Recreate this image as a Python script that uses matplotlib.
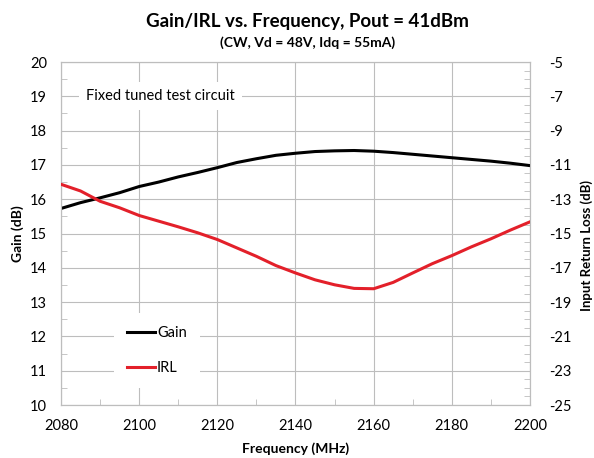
import numpy as np
import matplotlib
matplotlib.use("Agg")
import matplotlib.pyplot as plt
from matplotlib.ticker import MultipleLocator

# Data
freq = [2080, 2085, 2090, 2095, 2100, 2105, 2110, 2115, 2120, 2125, 2130, 2135, 2140,
        2145, 2150, 2155, 2160, 2165, 2170, 2175, 2180, 2185, 2190, 2195, 2200]
gain = [15.73, 15.90, 16.04, 16.19, 16.37, 16.50, 16.65, 16.78, 16.92, 17.07, 17.18, 17.28, 17.34,
        17.39, 17.41, 17.42, 17.40, 17.36, 17.31, 17.26, 17.21, 17.16, 17.11, 17.05, 16.98]
irl = [-12.13, -12.52, -13.12, -13.50, -13.95, -14.28, -14.61, -14.96, -15.35, -15.84, -16.33, -16.87, -17.30,
       -17.70, -17.99, -18.20, -18.22, -17.85, -17.30, -16.76, -16.29, -15.78, -15.31, -14.80, -14.32]
irl_ticks = [-25, -23, -21, -19, -17, -15, -13, -11, -9, -7, -5]

title = "Gain/IRL vs. Frequency, Pout = 41dBm"
subtitle = "(CW, Vd = 48V, Idq = 55mA)"

plt.rcParams["font.family"] = ["Lato", "DejaVu Sans"]
plt.rcParams["axes.unicode_minus"] = False

fig = plt.figure(figsize=(5.94, 4.58), dpi=100)
ax = fig.add_axes([0.1027, 0.1157, 0.7895, 0.7489])
ax2 = ax.twinx()

gridc = "#bdbdbd"
l1, = ax.plot(freq, gain, color="black", linewidth=2.2, zorder=3, solid_joinstyle="round")
l2, = ax2.plot(freq, irl, color="#e3202a", linewidth=2.2, zorder=3, solid_joinstyle="round")

ax.set_xlim(2080, 2200)
ax.set_ylim(10, 20)
ax2.set_ylim(-25, -5)
ax2.set_yticks(irl_ticks)
ax.xaxis.set_major_locator(MultipleLocator(20))
ax.xaxis.set_minor_locator(MultipleLocator(10))
ax.yaxis.set_major_locator(MultipleLocator(1))
ax.yaxis.set_minor_locator(MultipleLocator(0.5))
ax2.yaxis.set_minor_locator(MultipleLocator(0.5))

ax.grid(True, which="major", color=gridc, linewidth=0.8)
ax.set_axisbelow(True)
for a in (ax, ax2):
    for s in a.spines.values():
        s.set_color(gridc)
    a.tick_params(which="both", direction="in", color=gridc, labelsize=10.5)
    a.tick_params(which="major", length=0)
    a.tick_params(which="minor", length=4)
ax.tick_params(axis="x", pad=10)
ax.tick_params(axis="y", pad=10)
ax2.tick_params(axis="y", pad=14)

ax.set_xlabel("Frequency (MHz)", fontsize=10, fontweight="bold", labelpad=7)
ax.set_ylabel("Gain (dB)", fontsize=10, fontweight="bold", labelpad=4)
ax2.set_ylabel("Input Return Loss (dB)", fontsize=9.5, fontweight="bold")
ax2.yaxis.set_label_coords(1.107, 0.464)

fig.text(0.518, 0.953, title, ha="center", va="center", fontsize=13.5, fontweight="bold")
fig.text(0.518, 0.907, subtitle, ha="center", va="center", fontsize=10, fontweight="bold")

ax.text(2086.4, 19, "Fixed tuned test circuit", ha="left", va="center", fontsize=10.5,
        bbox=dict(facecolor="white", edgecolor="none", pad=5), zorder=4)

leg = ax2.legend([l1, l2], ["Gain", "IRL"],
                 loc="upper left", bbox_to_anchor=(0.113, 0.268), borderaxespad=0,
                 frameon=True, fontsize=10.5, handlelength=1.9, handletextpad=0.15,
                 labelspacing=1.4, borderpad=0.9, facecolor="white", edgecolor="none",
                 framealpha=1, fancybox=False)
leg.set_zorder(5)

fig.savefig("out.png", dpi=100)
